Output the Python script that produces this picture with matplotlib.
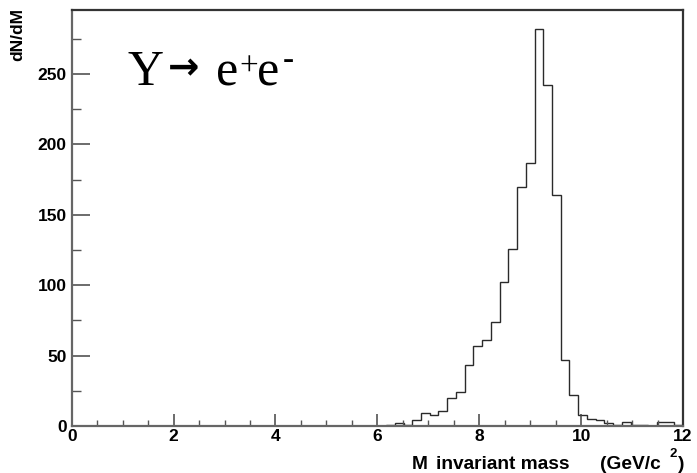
import numpy as np
import matplotlib
matplotlib.use("Agg")
import matplotlib.pyplot as plt
from matplotlib.ticker import MultipleLocator

# Invariant-mass histogram: 70 bins over 0-12 GeV/c^2
x_min, x_max, n_bins = 0.0, 12.0, 70
counts = (
    [0] * 36 +
    [1, 2, 1, 4, 9, 8, 11, 20, 24, 43, 57, 61, 74, 102, 126, 170, 187,
     282, 242, 164, 47, 22, 8, 5, 4, 2, 1, 3, 1, 1, 0, 3, 3, 1]
)
x_ticks = [0, 2, 4, 6, 8, 10, 12]
y_ticks = [0, 50, 100, 150, 200, 250]

W, H, DPI = 697, 473, 100
fig = plt.figure(figsize=(W / DPI, H / DPI), dpi=DPI)
ax = fig.add_axes([71.7 / W, 1 - 426 / H, (683 - 71.7) / W, (426 - 10) / H])

edges = np.linspace(x_min, x_max, n_bins + 1)
ax.stairs(counts, edges, baseline=0, fill=False, color="#2a2a2a", linewidth=1.0)

ax.set_xlim(x_min, x_max)
ax.set_ylim(0, 295.5)
ax.set_xticks(x_ticks)
ax.set_yticks(y_ticks)
ax.xaxis.set_minor_locator(MultipleLocator(0.5))
ax.yaxis.set_minor_locator(MultipleLocator(25))

tick_font = dict(family="Liberation Sans", weight="bold", size=12.5)
ax.set_xticklabels([str(v) for v in x_ticks], **tick_font)
ax.set_yticklabels([str(v) for v in y_ticks], **tick_font)

ax.tick_params(axis="x", which="major", direction="in", length=9, width=1.1,
               color="#444444", pad=2)
ax.tick_params(axis="x", which="minor", direction="in", length=4.5, width=1.0,
               color="#555555")
ax.tick_params(axis="y", which="major", direction="in", length=13, width=1.1,
               color="#444444", pad=3.5)
ax.tick_params(axis="y", which="minor", direction="in", length=6.5, width=1.0,
               color="#555555")

for side in ("left", "bottom"):
    ax.spines[side].set_color("#666666")
    ax.spines[side].set_linewidth(1.6)
for side in ("top", "right"):
    ax.spines[side].set_color("#333333")
    ax.spines[side].set_linewidth(1.6)


def fx(px):
    return px / W


def fy(py):
    return 1 - py / H


# Y-axis title, rotated, anchored at the top
fig.text(fx(18), fy(8), "dN/dM", rotation=90, ha="center", va="top",
         family="Liberation Sans", weight="bold", size=12.5)

# X-axis title at the lower right
lab = dict(family="Liberation Sans", weight="bold", size=13.8, va="baseline")
fig.text(fx(412), fy(469), "M", ha="left", **lab)
fig.text(fx(436), fy(469), "invariant mass", ha="left", **lab)
fig.text(fx(600), fy(469), "(GeV/c", ha="left", **lab)
fig.text(fx(673), fy(457), "2", ha="center",
         family="Liberation Sans", weight="bold", size=9.5, va="baseline")
fig.text(fx(678), fy(469), ")", ha="left", **lab)

# Decay label
serif = ["Liberation Serif", "DejaVu Serif"]
fig.text(fx(127), fy(85), "Y", ha="left", va="baseline", family=serif, size=36)
fig.text(fx(184), fy(79), "\u2192", ha="center", va="baseline",
         family="DejaVu Sans", weight="bold", size=27)
fig.text(fx(216), fy(85), "e", ha="left", va="baseline", family=serif, size=36)
fig.text(fx(249), fy(76), "+", ha="center", va="baseline", family=serif,
         size=24)
fig.text(fx(257), fy(85), "e", ha="left", va="baseline", family=serif, size=36)
fig.text(fx(288), fy(69), "-", ha="center", va="baseline", family=serif,
         size=24)

fig.savefig("out.png", dpi=DPI)
